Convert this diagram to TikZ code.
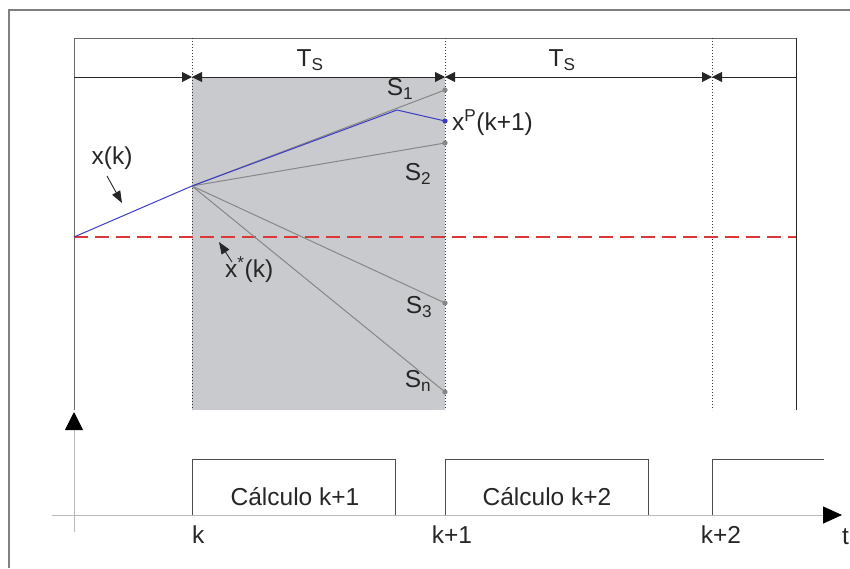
\documentclass[tikz,border=0pt]{standalone}
\usepackage{fontspec}
\setmainfont{Liberation Sans}
\usetikzlibrary{arrows.meta}
\definecolor{cshade}{RGB}{200,202,205}
\definecolor{cframe}{RGB}{105,105,105}
\definecolor{cgrayline}{RGB}{135,135,135}
\definecolor{cblue}{RGB}{60,60,195}
\definecolor{refred}{RGB}{220,55,55}
\definecolor{caxis}{RGB}{185,185,185}
\tikzset{
  lbl/.style={inner sep=0pt, font=\fontsize{24.5}{28}\selectfont, text=black!85},
  dimline/.style={line width=1pt, black!85},
  dotline/.style={line width=1pt, black!80, dash pattern=on 1pt off 2pt},
  stratline/.style={line width=1pt, cgrayline},
  trajline/.style={line width=1pt, cblue},
  refline/.style={line width=1.1pt, draw=refred, dash pattern=on 14pt off 7pt},
  pulse/.style={line width=1pt, black!70},
  ptr/.style={line width=0.9pt, black!85, -{Triangle[length=12pt,width=9pt]}},
}
\begin{document}
\begin{tikzpicture}[x=1pt,y=-1pt]
\useasboundingbox (0,0) rectangle (850,568);
% coordinates
\coordinate (oBL) at (9,568);
\coordinate (oTL) at (9,10);
\coordinate (oTR) at (850,10);
\coordinate (iBL) at (74,410);
\coordinate (iTL) at (74,38);
\coordinate (iTR) at (796,38);
\coordinate (iBR) at (796,410);
\coordinate (d0) at (74,77);
\coordinate (d1) at (192,77);
\coordinate (d2) at (445,77);
\coordinate (d3) at (712,77);
\coordinate (d4) at (796,77);
\coordinate (v1t) at (192,38);
\coordinate (v1b) at (192,410);
\coordinate (v2t) at (445,38);
\coordinate (v2b) at (445,410);
\coordinate (v3t) at (712,38);
\coordinate (v3b) at (712,410);
\coordinate (r0) at (74,237);
\coordinate (r1) at (796,237);
\coordinate (P) at (192,186);
\coordinate (E1) at (445,90);
\coordinate (E2) at (445,143);
\coordinate (E3) at (445,303);
\coordinate (En) at (445,392);
\coordinate (B) at (397,110);
\coordinate (XP) at (445,121);
% outer frame
\draw[line width=1.2pt, black!50] (oBL) -- (oTL) -- (oTR);
% shaded region
\fill[cshade] (d1) rectangle (v2b);
% inner frame
\draw[line width=1pt, cframe] (iBL) -- (iTL) -- (iTR);
\draw[line width=1pt, black!85] (iTR) -- (iBR);
% dotted verticals
\draw[dotline] (v1t) -- (v1b);
\draw[dotline] (v2t) -- (v2b);
\draw[dotline] (v3t) -- (v3b);
% dimension line
\draw[dimline, -{Triangle[length=10pt,width=10pt]}] (d0) -- (d1);
\draw[dimline, {Triangle[length=10pt,width=10pt]}-{Triangle[length=10pt,width=10pt]}] (d1) -- (d2);
\draw[dimline, {Triangle[length=10pt,width=10pt]}-{Triangle[length=10pt,width=10pt]}] (d2) -- (d3);
\draw[dimline, {Triangle[length=10pt,width=10pt]}-] (d3) -- (d4);
\node[lbl] (ts1) at (310,60) {T\textsubscript{S}};
\node[lbl] (ts2) at (562,60) {T\textsubscript{S}};
% red dashed reference
\draw[refline] (r0) -- (r1);
% strategy lines
\draw[stratline] (P) -- (E1);
\draw[stratline] (P) -- (E2);
\draw[stratline] (P) -- (E3);
\draw[stratline] (P) -- (En);
\foreach \e in {E1,E2,E3,En} \fill[cgrayline] (\e) circle (2.6pt);
% blue trajectory
\draw[trajline] (r0) -- (P) -- (B) -- (XP);
\fill[cblue] (XP) circle (2.6pt);
% labels
\node[lbl] (s1) at (400,89) {S\textsubscript{1}};
\node[lbl] (s2) at (418,174) {S\textsubscript{2}};
\node[lbl] (s3) at (419,307) {S\textsubscript{3}};
\node[lbl] (sn) at (418,381) {S\textsubscript{n}};
\node[lbl, anchor=west] (xp) at (452,123) {x\textsuperscript{P}(k+1)};
\node[lbl] (xk) at (112,158) {x(k)};
\node[lbl, anchor=west] (xs) at (225,270) {x\textsuperscript{*}(k)};
\coordinate (a1s) at (107,176);
\coordinate (a1e) at (122,203);
\coordinate (a2s) at (232,262);
\coordinate (a2e) at (219,242);
\draw[ptr] (a1s) -- (a1e);
\draw[ptr] (a2s) -- (a2e);
% bottom time axis
\coordinate (yb) at (74,532);
\coordinate (yt) at (74,412);
\coordinate (tl) at (52,515);
\coordinate (tr) at (842,515);
\draw[line width=1pt, caxis, -{Triangle[length=18pt,width=18pt,color=black]}] (yb) -- (yt);
\draw[line width=1pt, caxis, -{Triangle[length=19pt,width=17pt,color=black]}] (tl) -- (tr);
% pulses
\coordinate (p1a) at (192,515);
\coordinate (p1b) at (192,459);
\coordinate (p1c) at (395,459);
\coordinate (p1d) at (395,515);
\coordinate (p2a) at (445,515);
\coordinate (p2b) at (445,459);
\coordinate (p2c) at (648,459);
\coordinate (p2d) at (648,515);
\coordinate (p3a) at (712,515);
\coordinate (p3b) at (712,459);
\coordinate (p3c) at (824,459);
\draw[pulse] (p1a) -- (p1b) -- (p1c) -- (p1d);
\draw[pulse] (p2a) -- (p2b) -- (p2c) -- (p2d);
\draw[pulse] (p3a) -- (p3b) -- (p3c);
\node[lbl] (c1) at (295,497) {Cálculo k+1};
\node[lbl] (c2) at (547,497) {Cálculo k+2};
\node[lbl, anchor=west] (k0) at (192,535) {k};
\node[lbl] (k1) at (452,535) {k+1};
\node[lbl] (k2) at (721,535) {k+2};
\node[lbl, anchor=west] (tt) at (842,537) {t};
\end{tikzpicture}
\end{document}
